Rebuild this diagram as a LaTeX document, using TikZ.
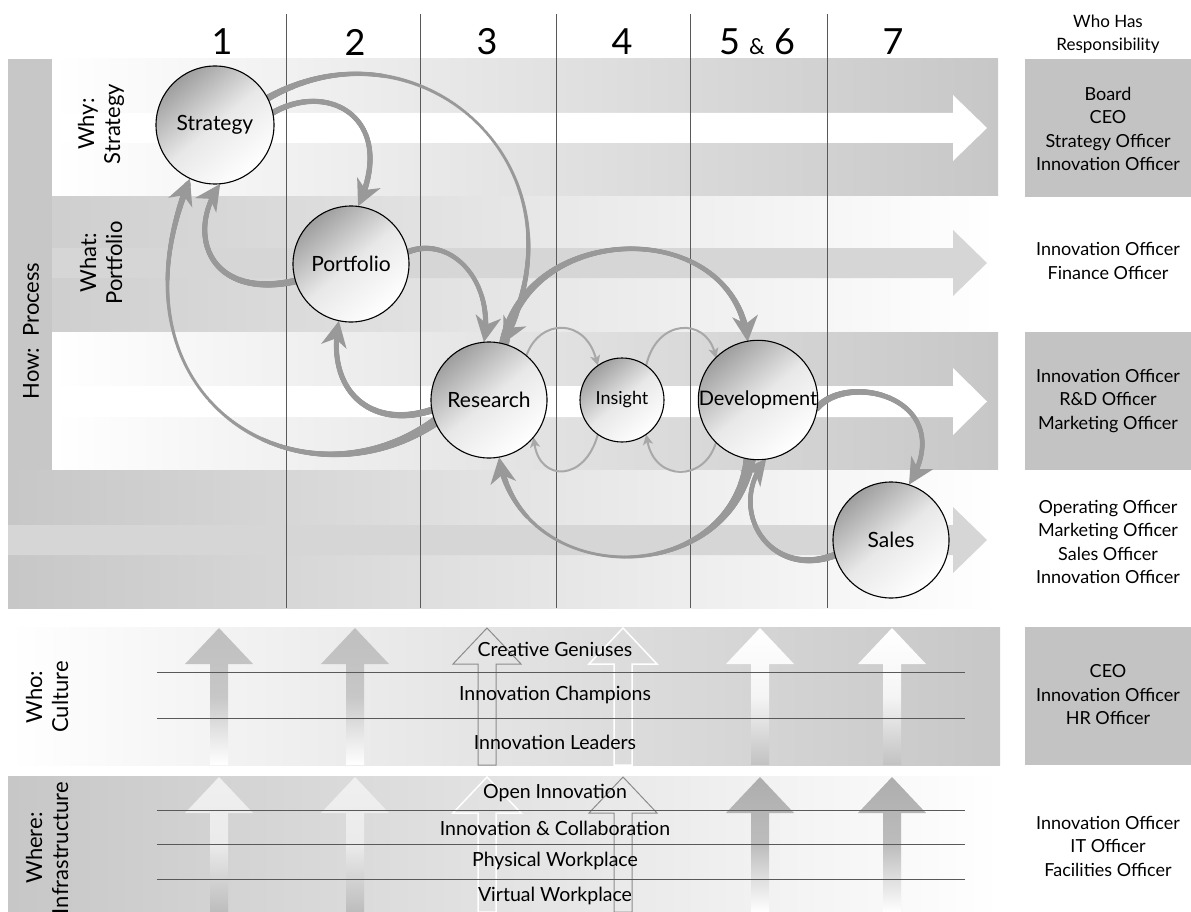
\documentclass[tikz,border=0pt]{standalone}
\usepackage{fontspec}
\setmainfont{Lato}
\usetikzlibrary{arrows.meta,decorations.markings}

\definecolor{arrowgray}{gray}{0.60}
\definecolor{thingray}{gray}{0.66}
\definecolor{bandgray}{gray}{0.78}
\definecolor{boxgray}{gray}{0.765}
\definecolor{bandarrow}{gray}{0.84}
\definecolor{rulegray}{gray}{0.35}

% upward block arrow: centre x, tip y, bottom y, style
\newcommand\vtarrow[4]{\path[#4] (#1,#2) -- ({#1+34},{#2+36}) -- ({#1+9},{#2+36}) -- ({#1+9},#3) -- ({#1-9},#3) -- ({#1-9},{#2+36}) -- ({#1-34},{#2+36}) -- cycle;}
% horizontal band arrow: start x, shaft top y, shaft bottom y, style
\newcommand\bandarrow[4]{\path[#4] (#1,#2) -- (953,#2) -- (953,{#2-18}) -- (987,{(#2+#3)/2}) -- (953,{#3+18}) -- (953,#3) -- (#1,#3) -- cycle;}

\begin{document}
\begin{tikzpicture}[x=1pt,y=-1pt,
  stage/.style={circle, draw=black, line width=1.1pt, inner sep=0pt, minimum size=#1,
    top color=black!38, bottom color=white, middle color=black!9, shading angle=40,
    font=\fontsize{21}{24}\selectfont},
  colnum/.style={font=\fontsize{36}{40}\selectfont},
  resp/.style={align=center, font=\fontsize{18}{23.5}\selectfont},
  sidelabel/.style={rotate=90, align=center, font=\fontsize{22}{26}\selectfont},
  layer/.style={font=\fontsize{19.5}{22}\selectfont},
  % arrowhead placed at the end of a connector
  flowhead/.style={postaction={decorate, decoration={markings,
      mark=at position -0.5pt with {
        \fill[arrowgray] (0.5pt,0pt) -- (-25.5pt,13pt) -- (-17.5pt,0pt) -- (-25.5pt,-13pt) -- cycle;
      }}}},
  % tapered connector: start width, middle width, end width (pt)
  flow/.style n args={3}{flowhead, postaction={decorate, decoration={markings,
      mark=between positions 0 and -14pt step 0.7pt with {
        \pgfmathsetmacro\tprog{\pgfkeysvalueof{/pgf/decoration/mark info/distance from start}/\pgfdecoratedpathlength}
        \pgfmathsetmacro\tapw{max(2,(#1)*(1-\tprog)^2+2*(#2)*\tprog*(1-\tprog)+(#3)*\tprog^2)}
        \fill[arrowgray] (0,0) circle[radius=\tapw*0.5pt];
      }}}},
  loop/.style={draw=thingray, line width=2pt, -{Stealth[length=10pt,width=10pt,inset=2.5pt]}}
]
\useasboundingbox (0,0) rectangle (1191,912);
\clip (0,0) rectangle (1191,912);

% process bands
\fill[bandgray] (8,59) rectangle (52,608);
\shade[left color=white, right color=bandgray] (52,59) rectangle (998,197);
\shade[left color=black!19, right color=white] (52,197) rectangle (998,332);
\shade[left color=white, right color=bandgray] (52,332) rectangle (998,470);
\shade[left color=bandgray, right color=white] (8,470) rectangle (998,608);
\bandarrow{52}{113}{143}{fill=white}
\bandarrow{52}{248}{278}{fill=bandarrow}
\bandarrow{52}{386}{417}{fill=white}
\bandarrow{8}{525}{555}{fill=bandarrow}

% culture and infrastructure bands
\shade[left color=white, right color=bandgray] (8,627) rectangle (1000,765);
\shade[left color=bandgray, right color=white] (8,776) rectangle (1000,912);

% responsibility boxes
\fill[boxgray] (1025,59) rectangle (1191,197);
\fill[boxgray] (1025,332) rectangle (1191,470);
\fill[boxgray] (1025,627) rectangle (1191,765);

% column rules
\foreach \cx in {286,420,556,690,827}
  \draw[rulegray, line width=0.8pt] (\cx,14) -- (\cx,608);

% column numbers
\node[colnum] (c1) at (222,42) {1};
\node[colnum] (c2) at (355,42) {2};
\node[colnum] (c3) at (487,42) {3};
\node[colnum] (c4) at (622,42) {4};
\node[colnum] (c56) at (757,42) {5 {\fontsize{22}{24}\selectfont\&} 6};
\node[colnum] (c7) at (893,42) {7};
\node[resp, font=\fontsize{17}{23}\selectfont] (rhead) at (1108,34) {Who Has\\Responsibility};

% stage positions
\coordinate (pS) at (215,125);
\coordinate (pP) at (351,264);
\coordinate (pR) at (489,400);
\coordinate (pI) at (622,400);
\coordinate (pD) at (758,400);
\coordinate (pSa) at (891,540);

% stage outlines used as connector ends (the shaded discs are drawn on top later)
\path node[circle, minimum size=118pt, inner sep=0pt] (strat) at (pS) {}
      node[circle, minimum size=116pt, inner sep=0pt] (port) at (pP) {}
      node[circle, minimum size=116pt, inner sep=0pt] (res) at (pR) {}
      node[circle, minimum size=84pt, inner sep=0pt] (ins) at (pI) {}
      node[circle, minimum size=118pt, inner sep=0pt] (dev) at (pD) {}
      node[circle, minimum size=116pt, inner sep=0pt] (sales) at (pSa) {};

% feedback connectors
\path[flow={7}{-1}{7}] (strat.27) .. controls (418,13) and (595,165) .. (res.76);
\path[flow={6}{4}{6}] (strat.12) .. controls (330,80) and (398,120) .. (port.83);
\path[flow={7}{5}{5}] (port.197) .. controls (210,300) and (185,235) .. (strat.275);
\path[flow={10}{-2}{7}] (res.202) .. controls (300,515) and (100,400) .. (strat.245);
\path[flow={7}{5}{5}] (res.190) .. controls (370,430) and (325,390) .. (port.258);
\path[flow={6}{3}{6}] (port.12) .. controls (450,235) and (495,280) .. (res.95);
\path[flow={10}{1}{7}] (res.75) .. controls (525,220) and (735,215) .. (dev.100);
\path[flow={12}{-3}{7}] (dev.262) .. controls (730,590) and (520,590) .. (res.280);
\path[flow={7}{4}{5}] (dev.-8) .. controls (850,370) and (960,400) .. (sales.72);
\path[flow={7}{4}{5}] (sales.195) .. controls (770,580) and (725,510) .. (dev.278);
\draw[loop] (res.50) .. controls (540,318) and (585,318) .. (ins.125);
\draw[loop] (ins.55) .. controls (657,318) and (705,318) .. (dev.135);
\draw[loop] (ins.235) .. controls (585,482) and (540,482) .. (res.320);
\draw[loop] (dev.225) .. controls (705,482) and (655,482) .. (ins.305);

% stages
\node[stage=118pt] (stratC) at (pS) {Strategy};
\node[stage=116pt] (portC) at (pP) {Portfolio};
\node[stage=116pt] (resC) at (pR) {Research};
\node[stage=84pt, font=\fontsize{18}{20}\selectfont] (insC) at (pI) {Insight};
\node[stage=118pt, font=\fontsize{20}{24}\selectfont] (devC) at (pD) {Development};
\node[stage=116pt] (salesC) at (pSa) {Sales};

% row labels
\node[sidelabel] (how) at (31,331) {How:\ \ Process};
\node[sidelabel] (why) at (101,124) {Why:\\Strategy};
\node[sidelabel] (what) at (101,263) {What:\\Portfolio};
\node[sidelabel] (who) at (47,697) {Who:\\Culture};
\node[sidelabel] (where) at (47,848) {Where:\\Infrastructure};

% responsibilities
\node[resp] (r1) at (1108,129) {Board\\CEO\\Strategy Officer\\Innovation Officer};
\node[resp] (r2) at (1108,261) {Innovation Officer\\Finance Officer};
\node[resp] (r3) at (1108,401) {Innovation Officer\\R\&D Officer\\Marketing Officer};
\node[resp] (r4) at (1108,542) {Operating Officer\\Marketing Officer\\Sales Officer\\Innovation Officer};
\node[resp] (r5) at (1108,695) {CEO\\Innovation Officer\\HR Officer};
\node[resp] (r6) at (1108,846) {Innovation Officer\\IT Officer\\Facilities Officer};

% culture arrows
\vtarrow{219}{628}{765}{top color=black!25, bottom color=white, middle color=black!22}
\vtarrow{355}{628}{765}{top color=black!25, bottom color=white, middle color=black!22}
\vtarrow{487}{628}{765}{draw=black!45, line width=1pt}
\vtarrow{623}{628}{765}{draw=white, line width=1.5pt}
\vtarrow{760}{628}{765}{top color=white, bottom color=black!24, middle color=black!4}
\vtarrow{892}{628}{765}{top color=white, bottom color=black!24, middle color=black!4}

% infrastructure arrows
\vtarrow{219}{777}{912}{top color=black!6, bottom color=black!26, middle color=black!8}
\vtarrow{355}{777}{912}{top color=black!6, bottom color=black!26, middle color=black!8}
\vtarrow{487}{777}{912}{draw=white, line width=1.5pt}
\vtarrow{623}{777}{912}{draw=black!45, line width=1pt}
\vtarrow{760}{777}{912}{top color=black!32, bottom color=white, middle color=black!26}
\vtarrow{892}{777}{912}{top color=black!32, bottom color=white, middle color=black!26}

% layer rules
\foreach \ly in {672,718,810,844,879}
  \draw[rulegray, line width=0.8pt] (157,\ly) -- (965,\ly);

% layer names
\node[layer] (l1) at (555,649) {Creative Geniuses};
\node[layer] (l2) at (555,695) {Innovation Champions};
\node[layer] (l3) at (555,742) {Innovation Leaders};
\node[layer] (l4) at (555,793) {Open Innovation};
\node[layer] (l5) at (555,828) {Innovation \& Collaboration};
\node[layer] (l6) at (555,861) {Physical Workplace};
\node[layer] (l7) at (555,896) {Virtual Workplace};
\end{tikzpicture}
\end{document}
